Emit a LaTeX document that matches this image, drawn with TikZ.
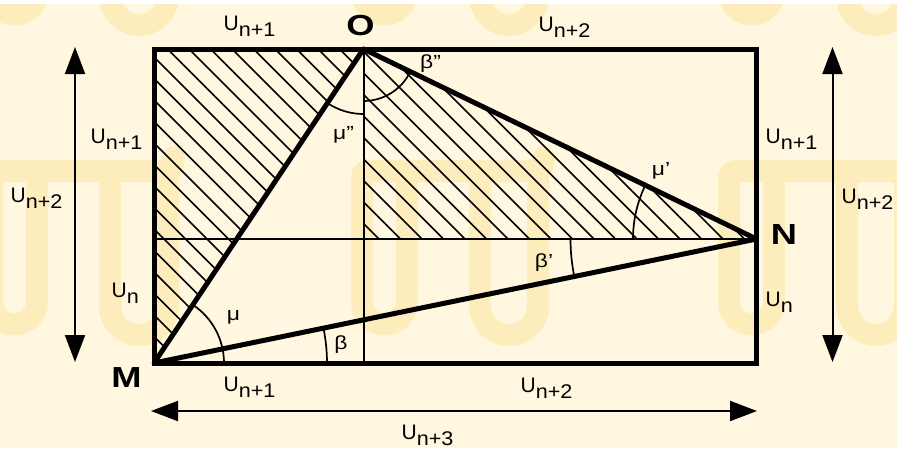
\documentclass[tikz,border=0pt]{standalone}
\usepackage{graphicx}
\usepackage{fontspec}
\setmainfont{Liberation Sans}
\usetikzlibrary{arrows.meta}
\definecolor{bgc}{RGB}{255,247,224}
\definecolor{wmc}{RGB}{254,237,188}
\newcommand\Ulab[1]{\fontsize{21}{21}\selectfont U\raisebox{-6.5pt}{\fontsize{18}{18}\selectfont\scalebox{1.2}[1.1]{#1}}}
\newcommand\Bl[1]{\fontsize{29}{29}\selectfont\bfseries\scalebox{1.25}[1]{#1}}
\newcommand\Gr[1]{\fontsize{19}{19}\selectfont\scalebox{1.2}[1]{#1}}
\newcommand\wmotif[2]{%
  \draw[wmstroke] (#1+12,#2+131) -- (#1+12,#2+14) .. controls (#1+12,#2) .. (#1+26,#2) -- (#1+184,#2) .. controls (#1+192,#2) .. (#1+194,#2-14);
  \draw[wmstroke] (#1+57,#2) -- (#1+57,#2+131) arc[start angle=0,end angle=180,radius=22.5];
  \draw[wmstroke] (#1+130,#2) -- (#1+130,#2+135) arc[start angle=180,end angle=0,radius=29] -- (#1+188,#2);
}
\begin{document}
\begin{tikzpicture}[x=1pt,y=-1pt,
  wmstroke/.style={draw=wmc,line width=22pt,line cap=round,line join=round},
  rectframe/.style={line width=5pt,line join=miter},
  triline/.style={line width=5pt,line join=round},
  midline/.style={line width=2pt},
  hatchline/.style={line width=1.6pt},
  anglearc/.style={line width=1.7pt},
  dimarrow/.style={line width=2pt,{Triangle[length=27pt,width=20pt]}-{Triangle[length=27pt,width=20pt]}},
  ulab/.style={anchor=base west,inner sep=0pt},
  clab/.style={anchor=center,inner sep=0pt}]
\useasboundingbox (0,0) rectangle (897,448);
\fill[bgc] (0,0) rectangle (897,448);
\begin{scope}
  \clip (0,0) rectangle (897,448);
  \wmotif{-20}{171}\wmotif{350}{171}\wmotif{717}{171}
  \wmotif{-20}{-139}\wmotif{350}{-139}\wmotif{717}{-139}
\end{scope}
\fill[white] (0,0) rectangle (897,4);

\coordinate (M) at (154,363);
\coordinate (O) at (363.5,49);
\coordinate (N) at (756.5,239);
\coordinate (TL) at (154,49);
\coordinate (BR) at (756.5,363);
\coordinate (C) at (363.5,239);
\coordinate (Lm) at (154,239);
\coordinate (Bm) at (363.5,363);

\begin{scope}
  \clip (M) -- (TL) -- (O) -- cycle (O) -- (C) -- (N) -- cycle;
  \foreach \k in {-18,...,19}{\draw[hatchline] ({140+21.5*\k},0) -- ({588+21.5*\k},448);}
\end{scope}

\draw[midline] (Lm) -- (N);
\draw[midline] (O) -- (Bm);

\draw[anglearc] ([shift={(-56.35:70)}]M) arc[start angle=-56.35,end angle=0,radius=70];
\draw[anglearc] ([shift={(-11.63:173)}]M) arc[start angle=-11.63,end angle=0,radius=173];
\draw[anglearc] ([shift={(168.37:186)}]N) arc[start angle=168.37,end angle=180,radius=186];
\draw[anglearc] ([shift={(180:123.5)}]N) arc[start angle=180,end angle=205.77,radius=123.5];
\draw[anglearc] ([shift={(25.77:52)}]O) arc[start angle=25.77,end angle=90,radius=52];
\draw[anglearc] ([shift={(90:65)}]O) arc[start angle=90,end angle=123.65,radius=65];

\draw[triline] (M) -- (O) -- (N) -- cycle;
\draw[rectframe] (TL) rectangle (BR);

\coordinate (LA1) at (75,47);
\coordinate (LA2) at (75,362);
\coordinate (RA1) at (832.5,47);
\coordinate (RA2) at (832.5,362);
\coordinate (BA1) at (151,411);
\coordinate (BA2) at (757,411);
\draw[dimarrow] (LA1) -- (LA2);
\draw[dimarrow] (RA1) -- (RA2);
\draw[dimarrow] (BA1) -- (BA2);

\node[ulab] (u1) at (223.5,30) {\Ulab{n+1}};
\node[ulab] (u2) at (538.5,31) {\Ulab{n+2}};
\node[ulab] (u3) at (90.5,143) {\Ulab{n+1}};
\node[ulab] (u4) at (10.5,202) {\Ulab{n+2}};
\node[ulab] (u5) at (765.5,143) {\Ulab{n+1}};
\node[ulab] (u6) at (841.5,203) {\Ulab{n+2}};
\node[ulab] (u7) at (111.5,297) {\Ulab{n}};
\node[ulab] (u8) at (765.5,306) {\Ulab{n}};
\node[ulab] (u9) at (223.5,391) {\Ulab{n+1}};
\node[ulab] (u10) at (520.5,392) {\Ulab{n+2}};
\node[ulab] (u11) at (401.5,439) {\Ulab{n+3}};

\node[clab] (lO) at (360.5,26) {\Bl{O}};
\node[clab] (lM) at (126.5,377.5) {\Bl{M}};
\node[clab] (lN) at (784,235) {\Bl{N}};

\node[clab] (g1) at (430.5,63.5) {\Gr{β"}};
\node[clab] (g2) at (343.5,135) {\Gr{μ"}};
\node[clab] (g3) at (661,171) {\Gr{μ’}};
\node[clab] (g4) at (544,263) {\Gr{β’}};
\node[clab] (g5) at (233.5,317.5) {\Gr{μ}};
\node[clab] (g6) at (341,345) {\Gr{β}};
\end{tikzpicture}
\end{document}
